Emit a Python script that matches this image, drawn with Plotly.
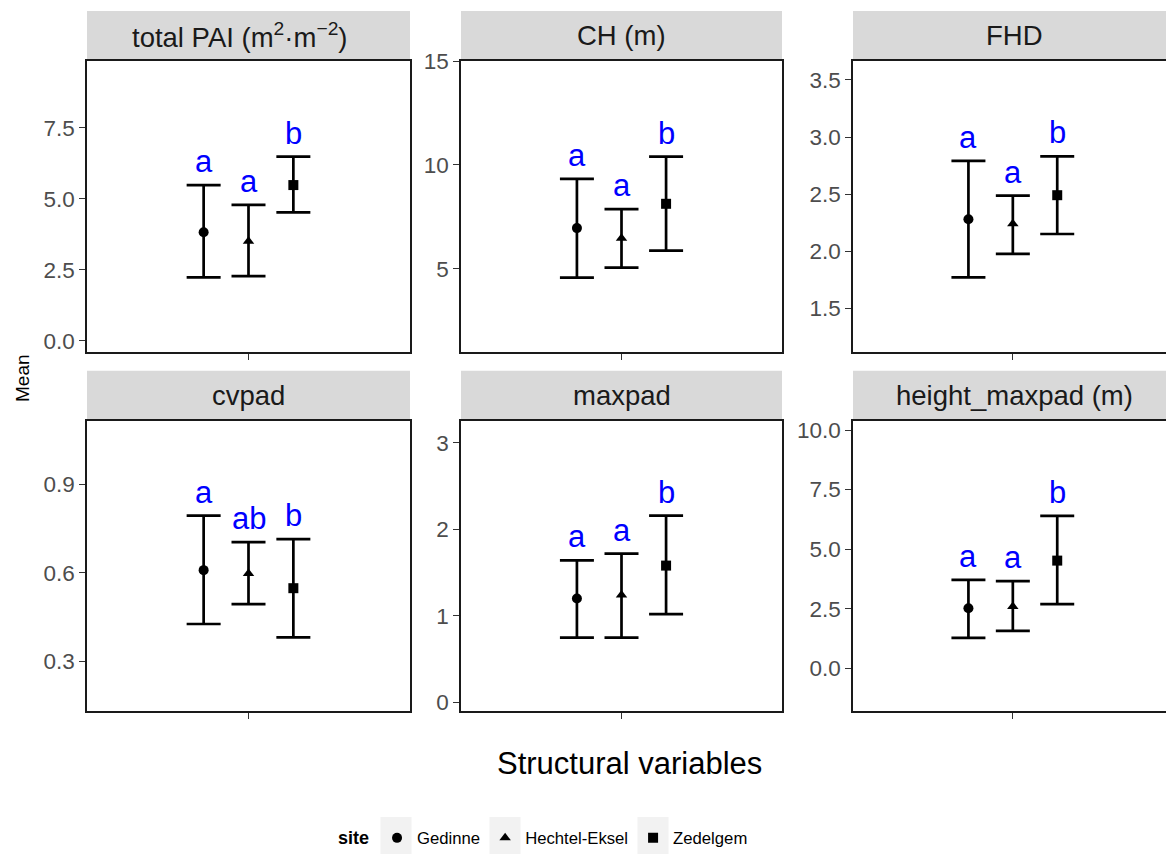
import plotly.graph_objects as go

# ---------------- data ----------------
variables = ["total PAI (m<sup>2</sup>·m<sup>−2</sup>)", "CH (m)", "FHD",
             "cvpad", "maxpad", "height_maxpad (m)"]
sites = ["Gedinne", "Hechtel-Eksel", "Zedelgem"]

gedinne_mean = [3.82, 6.96, 2.28, 0.609, 1.20, 2.52]
gedinne_lower = [2.23, 4.58, 1.77, 0.427, 0.747, 1.28]
gedinne_upper = [5.48, 9.33, 2.79, 0.793, 1.64, 3.71]
gedinne_letters = ["a", "a", "a", "a", "a", "a"]

hechtel_mean = [3.50, 6.47, 2.24, 0.598, 1.24, 2.59]
hechtel_lower = [2.27, 5.06, 1.976, 0.494, 0.747, 1.57]
hechtel_upper = [4.78, 7.87, 2.487, 0.704, 1.718, 3.66]
hechtel_letters = ["a", "a", "a", "ab", "a", "a"]

zedelgem_mean = [5.48, 8.13, 2.49, 0.548, 1.58, 4.52]
zedelgem_lower = [4.52, 5.88, 2.15, 0.382, 1.02, 2.69]
zedelgem_upper = [6.48, 10.4, 2.83, 0.714, 2.157, 6.40]
zedelgem_letters = ["b", "b", "b", "b", "b", "b"]

y_tickvals = [[0, 2.5, 5, 7.5], [5, 10, 15], [1.5, 2.0, 2.5, 3.0, 3.5],
              [0.3, 0.6, 0.9], [0, 1, 2, 3], [0, 2.5, 5, 7.5, 10]]
y_ticktext = [["0.0", "2.5", "5.0", "7.5"], ["5", "10", "15"],
              ["1.5", "2.0", "2.5", "3.0", "3.5"], ["0.3", "0.6", "0.9"],
              ["0", "1", "2", "3"], ["0.0", "2.5", "5.0", "7.5", "10.0"]]
y_ranges = [[-0.4, 9.85], [1.0, 15.0], [1.116, 3.666],
            [0.133, 1.114], [-0.1, 3.254], [-1.79, 10.39]]

# ---------------- styling / layout ----------------
W, H = 1166, 854
FONT = "Liberation Sans, Arial, sans-serif"
site_offsets = [-1 / 6, 0.0, 1 / 6]
site_symbols = ["circle", "triangle-up", "square"]
site_sizes = [10, 10, 10]

col_px = [(87, 410), (461, 782), (853, 1166)]
row_px = [(61, 352), (420.7, 711)]
x_ranges = [[0.4, 1.6], [0.4, 1.6], [0.4, 1.575]]

site_data = [
    (gedinne_mean, gedinne_lower, gedinne_upper, gedinne_letters),
    (hechtel_mean, hechtel_lower, hechtel_upper, hechtel_letters),
    (zedelgem_mean, zedelgem_lower, zedelgem_upper, zedelgem_letters),
]

fig = go.Figure()
layout = dict(
    width=W, height=H, autosize=False,
    margin=dict(l=0, r=0, t=0, b=0, pad=0, autoexpand=False),
    paper_bgcolor="white", plot_bgcolor="white",
    font=dict(family=FONT, color="#1A1A1A"),
    showlegend=True,
)
shapes = []
annotations = []

for p in range(6):
    r, c = divmod(p, 3)
    idx = p + 1
    xa = "xaxis" if idx == 1 else f"xaxis{idx}"
    ya = "yaxis" if idx == 1 else f"yaxis{idx}"
    xref = "x" if idx == 1 else f"x{idx}"
    yref = "y" if idx == 1 else f"y{idx}"
    x0, x1 = col_px[c]
    y0, y1 = row_px[r]
    layout[xa] = dict(
        domain=[x0 / W, x1 / W], range=x_ranges[c], anchor=yref,
        showgrid=False, zeroline=False, showline=True, linecolor="#1A1A1A",
        linewidth=1.6, mirror=True, tickvals=[1], showticklabels=False,
        ticks="outside", ticklen=6, tickcolor="#333333", tickwidth=1.2,
        fixedrange=True, automargin=False,
    )
    layout[ya] = dict(
        domain=[1 - y1 / H, 1 - y0 / H], range=y_ranges[p], anchor=xref,
        showgrid=False, zeroline=False, showline=True, linecolor="#1A1A1A",
        linewidth=1.6, mirror=(c < 2), tickvals=y_tickvals[p],
        ticktext=y_ticktext[p], ticks="outside", ticklen=6,
        tickcolor="#333333", tickwidth=1.2,
        tickfont=dict(family=FONT, size=22.5, color="#4D4D4D"),
        fixedrange=True, automargin=False,
    )
    # strip
    strip_h = 50 / (y1 - y0)
    shapes.append(dict(type="rect", xref=f"{xref} domain", yref=f"{yref} domain",
                       x0=0, x1=1 if c < 2 else 1.05, y0=1.004, y1=1 + strip_h,
                       fillcolor="#D9D9D9", line=dict(width=0), layer="below"))
    annotations.append(dict(text=variables[p], xref=f"{xref} domain",
                            yref=f"{yref} domain",
                            x=0.5 if c < 2 else 0.5 * (322 / 313), y=1 + strip_h / 2,
                            xshift=-9 if p == 0 else 0,
                            showarrow=False, xanchor="center", yanchor="middle",
                            font=dict(family=FONT, size=27.5, color="#1A1A1A")))

    for s in range(3):
        mean, lower, upper, letters = site_data[s]
        xv = 1 + site_offsets[s]
        fig.add_trace(go.Scatter(
            x=[xv], y=[mean[p]], mode="markers", xaxis=xref, yaxis=yref,
            name=sites[s], legendgroup=sites[s], showlegend=(p == 0),
            marker=dict(symbol=site_symbols[s], size=site_sizes[s], color="black"),
            error_y=dict(type="data", symmetric=False,
                         array=[upper[p] - mean[p]],
                         arrayminus=[mean[p] - lower[p]],
                         color="black", thickness=2.7, width=17),
            hoverinfo="skip",
        ))
        annotations.append(dict(text=letters[p], x=xv, y=upper[p],
                                xref=xref, yref=yref, showarrow=False,
                                xanchor="center", yanchor="bottom", yshift=4,
                                font=dict(family=FONT, size=31, color="#0000FF")))

annotations.append(dict(text="Mean", xref="paper", yref="paper",
                        x=22 / W, y=1 - 378 / H, showarrow=False, textangle=-90,
                        xanchor="center", yanchor="middle",
                        font=dict(family=FONT, size=19, color="#000000")))
annotations.append(dict(text="Structural variables", xref="paper", yref="paper",
                        x=629 / W, y=1 - 763 / H, showarrow=False,
                        xanchor="center", yanchor="middle",
                        font=dict(family=FONT, size=31, color="#000000")))

# legend key backgrounds
for kx in [380.5, 489.5, 637.5]:
    shapes.append(dict(type="rect", xref="paper", yref="paper",
                       x0=kx / W, x1=(kx + 31) / W, y0=0, y1=1 - 817 / H,
                       fillcolor="#F2F2F2", line=dict(width=0), layer="below"))

layout["shapes"] = shapes
layout["annotations"] = annotations
layout["legend"] = dict(
    orientation="h", x=336 / W, xanchor="left", y=1 - 838 / H, yanchor="middle",
    bgcolor="rgba(0,0,0,0)", title=dict(text="<b>site</b>", side="left",
                                        font=dict(family=FONT, size=18, color="#000000")),
    font=dict(family=FONT, size=16.7, color="#000000"),
    itemwidth=30,
)
fig.update_layout(**layout)
fig.write_html("out.html", config={"displayModeBar": False})

with open("out.html", "r", encoding="utf-8") as f:
    html = f.read()
html = html.replace("<body>", '<body style="margin:0;padding:0;overflow:hidden;">', 1)
with open("out.html", "w", encoding="utf-8") as f:
    f.write(html)
